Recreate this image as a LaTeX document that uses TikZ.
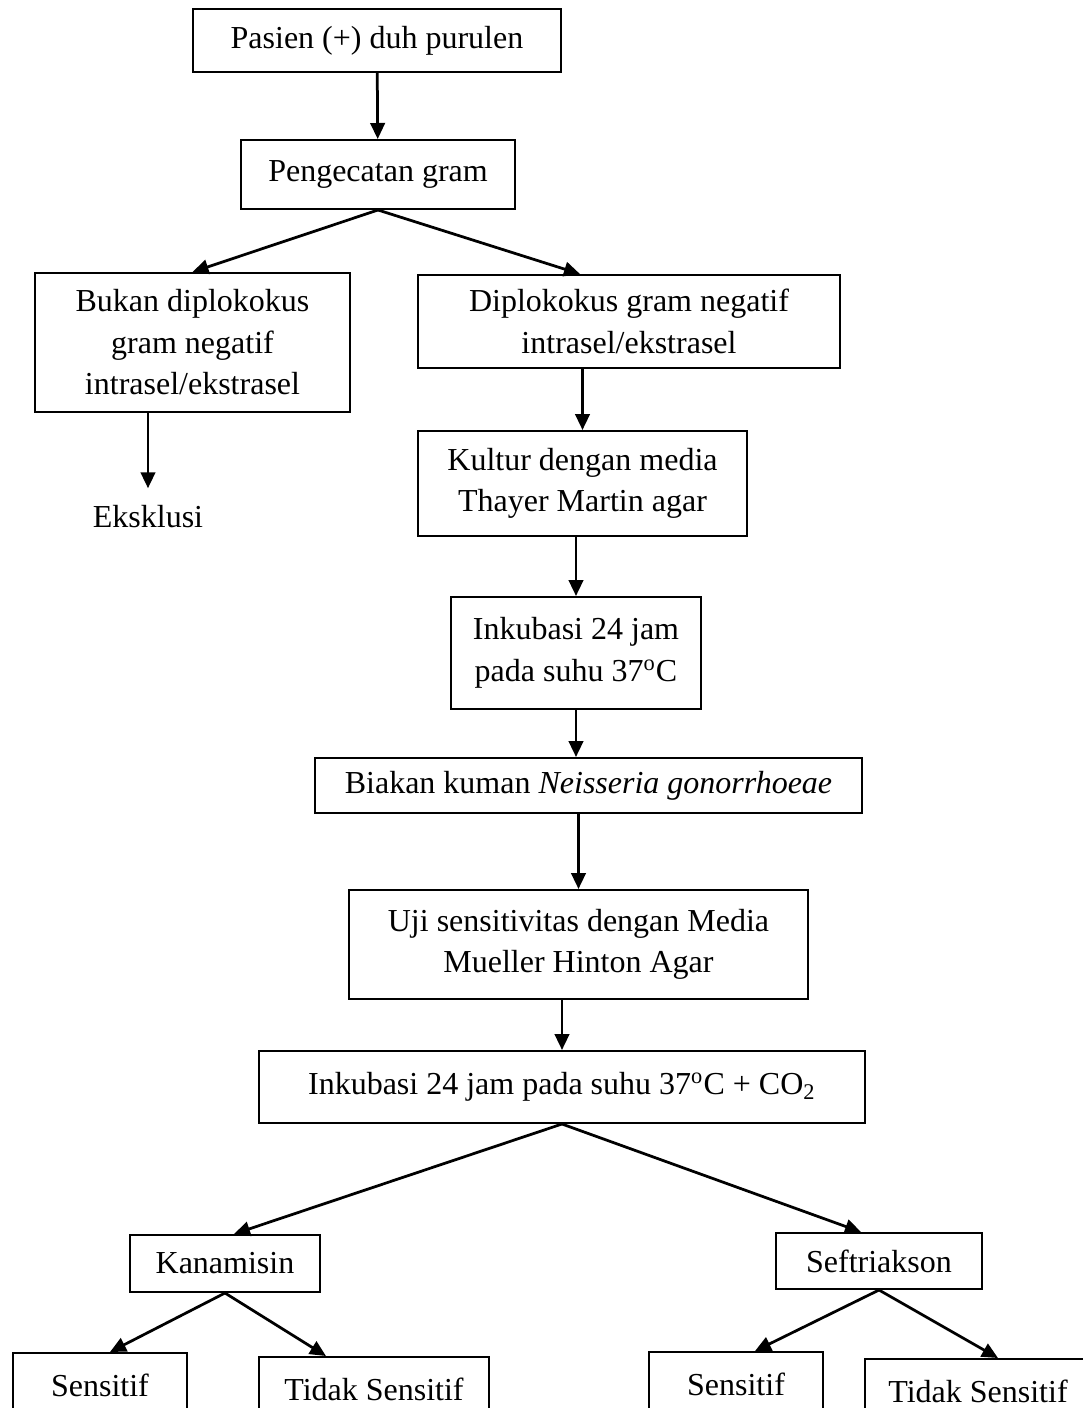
\documentclass[tikz,border=0pt]{standalone}
\usepackage{fontspec}
\setmainfont{Liberation Serif}
\usetikzlibrary{arrows.meta}

\begin{document}
\begin{tikzpicture}[x=0.4pt, y=-0.4pt,
	font=\fontsize{12.8}{16.6}\selectfont,
	box/.style={draw, line width=0.8pt, align=center, inner sep=0pt},
	arr/.style={-{Triangle[length=6.4pt, width=5.8pt]}, line width=1.1pt}]
	\useasboundingbox (0, 0) rectangle (1083, 1408);

	% main column
	\node[box, minimum width=147.2pt, minimum height=25.2pt] (pasien) at (377, 40.5) {Pasien (+) duh purulen};
	\node[box, minimum width=109.6pt, minimum height=27.6pt] (gram) at (378, 174.5) {Pengecatan gram};
	\node[box, minimum width=126pt, minimum height=55.6pt] (bukan) at (192.5, 342.5) {Bukan diplokokus\\gram negatif\\intrasel/ekstrasel};
	\node[box, minimum width=168.8pt, minimum height=37.2pt] (diplo) at (629, 321.5) {Diplokokus gram negatif\\intrasel/ekstrasel};
	\node[inner sep=0pt, outer sep=7pt] (eks) at (148, 517) {Eksklusi};
	\node[box, minimum width=131.6pt, minimum height=42pt] (kultur) at (582.5, 483.5) {Kultur dengan media\\Thayer Martin agar};
	\node[box, minimum width=100pt, minimum height=44.8pt] (inkubA) at (576, 653) {Inkubasi 24 jam\\pada suhu 37\textsuperscript{o}C};
	\node[box, minimum width=218.8pt, minimum height=22pt] (biakan) at (588.5, 785.5) {Biakan kuman \textit{Neisseria gonorrhoeae}};
	\node[box, minimum width=183.6pt, minimum height=43.6pt] (uji) at (578.5, 944.5) {Uji sensitivitas dengan Media\\Mueller Hinton Agar};
	\node[box, minimum width=242.4pt, minimum height=28.8pt] (inkubB) at (562, 1087) {Inkubasi 24 jam pada suhu 37\textsuperscript{o}C + CO\textsubscript{2}};

	% antibiotics
	\node[box, minimum width=76pt, minimum height=22.8pt] (kana) at (225, 1263.5) {Kanamisin};
	\node[box, minimum width=82.4pt, minimum height=22.4pt] (seft) at (879, 1261) {Seftriakson};
	\node[box, minimum width=69.6pt, minimum height=25.6pt] (sensA) at (100, 1385) {Sensitif};
	\node[box, minimum width=92pt, minimum height=25.6pt] (tidakA) at (374, 1389) {Tidak Sensitif};
	\node[box, minimum width=69.6pt, minimum height=25.6pt] (sensB) at (736, 1384) {Sensitif};
	\node[box, minimum width=90.4pt, minimum height=25.6pt] (tidakB) at (978, 1391) {Tidak Sensitif};

	\draw[arr] (pasien) -- (gram);
	\draw[arr] (gram.south) -- (bukan.north);
	\draw[arr] (gram.south) -- ([xshift=-19.6pt]diplo.north);
	\draw[arr] (bukan.south -| eks.north) -- (eks.north);
	\draw[arr] (diplo.south -| kultur.north) -- (kultur.north);
	\draw[arr] (kultur.south -| inkubA.north) -- (inkubA.north);
	\draw[arr] (inkubA.south) -- (inkubA.south |- biakan.north);
	\draw[arr] (biakan.south -| uji.north) -- (uji.north);
	\draw[arr] (uji.south -| inkubB.north) -- (inkubB.north);
	\draw[arr] (inkubB.south) -- ([xshift=3.6pt]kana.north);
	\draw[arr] (inkubB.south) -- ([xshift=-7.2pt]seft.north);
	\draw[arr] (kana.south) -- ([xshift=4pt]sensA.north);
	\draw[arr] (kana.south) -- ([xshift=-19.2pt]tidakA.north);
	\draw[arr] (seft.south) -- ([xshift=7.6pt]sensB.north);
	\draw[arr] (seft.south) -- ([xshift=8pt]tidakB.north);
\end{tikzpicture}
\end{document}
